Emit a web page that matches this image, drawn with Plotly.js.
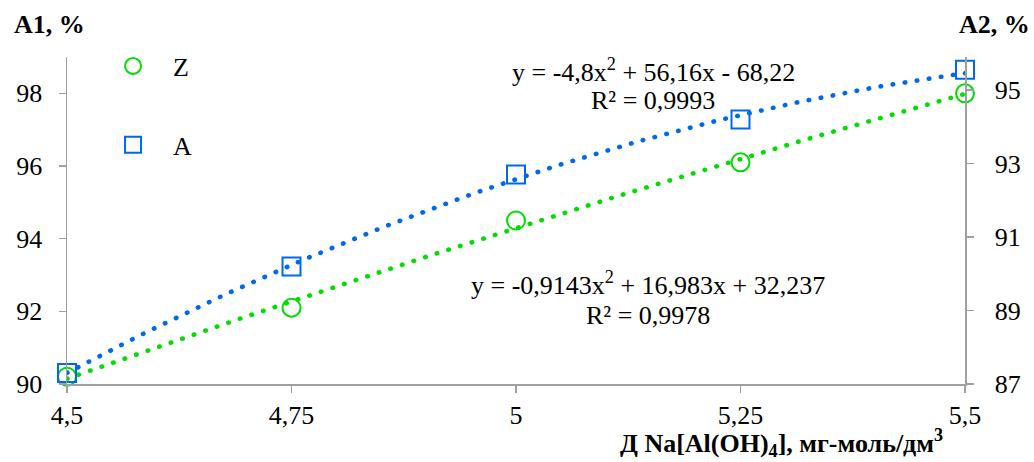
<!DOCTYPE html>
<html>
<head>
<meta charset="utf-8">
<script src="https://cdn.plot.ly/plotly-3.0.1.min.js"></script>
<style>
html,body{margin:0;padding:0;background:#fff;}
#chart{width:1034px;height:462px;}
#chart .xtick text, #chart .ytick text, #chart .y2tick text {font-family: "Liberation Serif", "Times New Roman", serif !important;}
</style>
</head>
<body>
<div id="chart"></div>
<script>
// ---- data ----
const xValues = [4.5, 4.75, 5, 5.25, 5.5];
const xTickText = ["4,5", "4,75", "5", "5,25", "5,5"];
const zValues = [90.2, 92.1, 94.5, 96.1, 98.0];   // left axis A1, %
const aValues = [87.3, 90.2, 92.7, 94.2, 95.55];  // right axis A2, %
const zCoef = [-0.9143, 16.983, 32.237];          // trendline Z: a x^2 + b x + c
const aCoef = [-4.8, 56.16, -68.22];              // trendline A
const y1Ticks = [90, 92, 94, 96, 98];
const y2Ticks = [87, 89, 91, 93, 95];

const GREEN = '#00dd00';
const BLUE = '#0068f0';
const FONT = '"Liberation Serif", "Times New Roman", serif';

function trend(coef) {
  const xs = [], ys = [];
  for (let i = 0; i <= 100; i++) {
    const x = 4.5 + i / 100;
    xs.push(x);
    ys.push(coef[0] * x * x + coef[1] * x + coef[2]);
  }
  return {x: xs, y: ys};
}
const zT = trend(zCoef), aT = trend(aCoef);

const traces = [
  {x: zT.x, y: zT.y, mode: 'lines', yaxis: 'y', showlegend: false, hoverinfo: 'skip',
   line: {color: GREEN, width: 4.6, dash: '0.5px,11.7px'}},
  {x: aT.x, y: aT.y, mode: 'lines', yaxis: 'y2', showlegend: false, hoverinfo: 'skip',
   line: {color: BLUE, width: 4.6, dash: '0.5px,11.7px'}},
  {x: xValues, y: zValues, name: 'Z', mode: 'markers', yaxis: 'y', legend: 'legend', cliponaxis: false,
   marker: {symbol: 'circle-open', size: 18, color: GREEN, line: {width: 2, color: GREEN}}},
  {x: xValues, y: aValues, name: 'A', mode: 'markers', yaxis: 'y2', legend: 'legend2', cliponaxis: false,
   marker: {symbol: 'square-open', size: 18, color: BLUE, line: {width: 2, color: BLUE}}}
];

function axis(extra) {
  return Object.assign({
    showgrid: false, zeroline: false, showline: true, linecolor: '#a0a0a0', linewidth: 1.5,
    ticks: 'outside', ticklen: 7, tickwidth: 1.5, tickcolor: '#a0a0a0',
    tickfont: {family: FONT, size: 26, color: '#000'}
  }, extra);
}

const layout = {
  width: 1034, height: 462,
  margin: {l: 67, r: 69, t: 57, b: 78},
  paper_bgcolor: '#fff', plot_bgcolor: '#fff',
  font: {family: FONT, size: 26, color: '#000'},
  xaxis: axis({range: [4.5, 5.5], tickmode: 'array', tickvals: xValues, ticktext: xTickText, ticklabelstandoff: 0}),
  yaxis: axis({range: [90, 99], tickmode: 'array', tickvals: y1Ticks, ticktext: y1Ticks.map(String), ticklabelstandoff: 11}),
  yaxis2: axis({range: [87, 95.9], overlaying: 'y', side: 'right', tickmode: 'array', tickvals: y2Ticks, ticktext: y2Ticks.map(String), ticklabelstandoff: 16}),
  legend: {x: 0.029, xanchor: 'left', y: 0.9725, yanchor: 'middle', itemwidth: 70, bgcolor: 'rgba(0,0,0,0)', font: {family: FONT, size: 26}},
  legend2: {x: 0.029, xanchor: 'left', y: 0.731, yanchor: 'middle', itemwidth: 70, bgcolor: 'rgba(0,0,0,0)', font: {family: FONT, size: 26}},
  annotations: [
    {xref: 'paper', yref: 'paper', x: 0.6526, y: 0.960, xanchor: 'center', yanchor: 'middle', showarrow: false,
     text: 'y = -4,8x<sup>2</sup> + 56,16x - 68,22'},
    {xref: 'paper', yref: 'paper', x: 0.6526, y: 0.866, xanchor: 'center', yanchor: 'middle', showarrow: false,
     text: 'R² = 0,9993'},
    {xref: 'paper', yref: 'paper', x: 0.647, y: 0.307, xanchor: 'center', yanchor: 'middle', showarrow: false,
     text: 'y = -0,9143x<sup>2</sup> + 16,983x + 32,237'},
    {xref: 'paper', yref: 'paper', x: 0.647, y: 0.211, xanchor: 'center', yanchor: 'middle', showarrow: false,
     text: 'R² = 0,9978'},
    {xref: 'paper', yref: 'paper', x: -0.061, y: 1.098, xanchor: 'left', yanchor: 'middle', showarrow: false,
     text: '<b>A1, %</b>'},
    {xref: 'paper', yref: 'paper', x: 1.075, y: 1.098, xanchor: 'right', yanchor: 'middle', showarrow: false,
     text: '<b>A2, %</b>'},
    {xref: 'paper', yref: 'paper', x: 0.9777, y: -0.180, xanchor: 'right', yanchor: 'middle', showarrow: false,
     text: '<b>Д Na[Al(OH)<sub>4</sub>], мг-моль/дм<sup>3</sup></b>'}
  ]
};

Plotly.newPlot('chart', traces, layout, {staticPlot: true}).then(function () {
  document.querySelectorAll('#chart .scatterlayer .js-line').forEach(function (p) {
    p.style.strokeLinecap = 'round';
  });
});
</script>
</body>
</html>
